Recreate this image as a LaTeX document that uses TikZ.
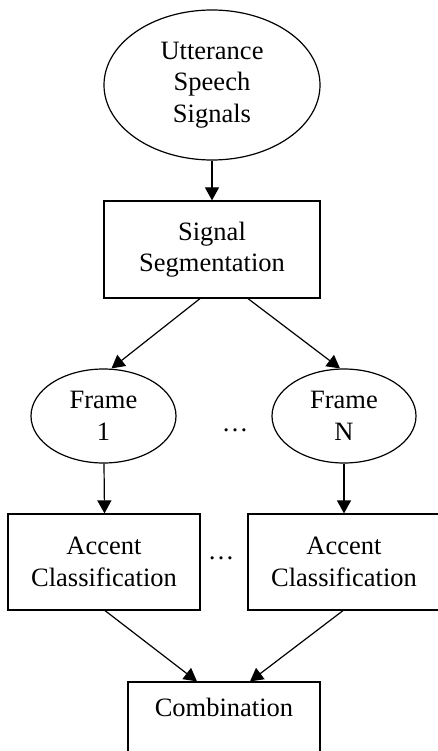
\documentclass[tikz,border=0pt]{standalone}
\usepackage{fontspec}
\setmainfont{Liberation Serif}
\usetikzlibrary{shapes.geometric,arrows.meta,calc}
\begin{document}
\begin{tikzpicture}[x=1pt,y=-1pt,
  every node/.style={font=\fontsize{26.5}{31.5}\selectfont, align=center},
  ell/.style={draw, line width=1.2pt, ellipse, inner sep=0pt},
  box/.style={draw, line width=1.2pt, rectangle, inner sep=0pt, minimum width=192pt, minimum height=96pt},
  arr/.style={line width=1.2pt, -{Triangle[length=13pt,width=14pt]}}]
\useasboundingbox (0,0) rectangle (438,751);
\node[ell, minimum width=216pt, minimum height=150pt] (utt) at (212,85) {Utterance\\Speech\\Signals};
\node[box, minimum width=216pt, minimum height=97pt] (sig) at (212,249.5) {Signal\\Segmentation};
\node[ell, minimum width=145pt, minimum height=94pt] (f1) at (103.5,416) {Frame\\1};
\node[ell, minimum width=144pt, minimum height=94pt] (fn) at (344,416) {Frame\\N};
\node[anchor=base] (dots1) at (235,431) {…};
\node[box] (ac1) at (104,562) {Accent\\Classification};
\node[box] (acn) at (344,562) {Accent\\Classification};
\node[anchor=base] (dots2) at (221,559) {…};
\node[box] (comb) at (224,730) {};
\node (combtext) at (224,707) {Combination};
\draw[arr] (utt.south) -- (sig.north);
\draw[arr] ([xshift=-12pt]sig.south) -- ([xshift=8pt]f1.north);
\draw[arr] ([xshift=36pt]sig.south) -- ([xshift=-4pt]fn.north);
\draw[arr] ([xshift=0.5pt]f1.south) -- ([xshift=0.5pt]ac1.north);
\draw[arr] (fn.south) -- (acn.north);
\draw[arr] ([xshift=1pt]ac1.south) -- ([xshift=-27pt]comb.north);
\draw[arr] ([xshift=-1pt]acn.south) -- ([xshift=26pt]comb.north);
\end{tikzpicture}
\end{document}
